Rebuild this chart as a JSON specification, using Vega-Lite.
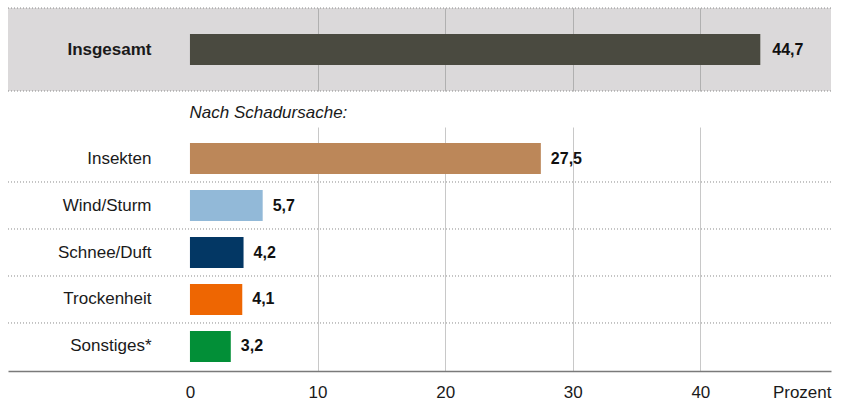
{
  "$schema": "https://vega.github.io/schema/vega-lite/v6.json",
  "padding": {"left": 7, "top": 7, "right": 11, "bottom": 4},
  "background": "white",
  "bounds": "flush",
  "spacing": 36,
  "config": {
    "locale": {"number": {"decimal": ",", "thousands": ".", "grouping": [3], "currency": ["", " €"]}},
    "font": "Liberation Sans",
    "view": {"stroke": null},
    "axis": {"labelFont": "Liberation Sans", "titleFont": "Liberation Sans", "labelColor": "#1a1a1a", "titleColor": "#1a1a1a"},
    "title": {"font": "Liberation Sans"}
  },
  "datasets": {
    "total": [{"label": "Insgesamt", "value": 44.7}],
    "causes": [
      {"label": "Insekten", "value": 27.5},
      {"label": "Wind/Sturm", "value": 5.7},
      {"label": "Schnee/Duft", "value": 4.2},
      {"label": "Trockenheit", "value": 4.1},
      {"label": "Sonstiges*", "value": 3.2}
    ]
  },
  "vconcat": [
    {
      "width": 823,
      "height": 83,
      "view": {"fill": "#dbd9da", "stroke": null},
      "data": {"name": "total"},
      "encoding": {
        "y": {
          "field": "label", "type": "nominal",
          "scale": {"paddingInner": 0, "paddingOuter": 0},
          "axis": {
            "title": null, "domain": false, "ticks": false, "tickSize": 0,
            "labelPadding": -143, "labelAlign": "right",
            "labelFontWeight": "bold", "labelFontSize": 17, "grid": false
          }
        },
        "x": {
          "field": "value", "type": "quantitative",
          "scale": {"domain": [-14.26, 50.24], "nice": false, "zero": false},
          "axis": {
            "title": null, "values": [10, 20, 30, 40], "labels": false, "ticks": false,
            "domain": false, "grid": true, "gridColor": "#b0b0b0", "gridWidth": 1
          }
        }
      },
      "layer": [
        {
          "mark": {"type": "rule", "strokeDash": [1, 2], "color": "#8a8a8a", "strokeWidth": 1},
          "encoding": {
            "y": {"field": "label", "type": "nominal", "bandPosition": 0},
            "x": {"value": 0},
            "x2": {"value": "width"}
          }
        },
        {
          "mark": {"type": "rule", "strokeDash": [1, 2], "color": "#8a8a8a", "strokeWidth": 1},
          "encoding": {
            "y": {"field": "label", "type": "nominal", "bandPosition": 1},
            "x": {"value": 0},
            "x2": {"value": "width"}
          }
        },
        {"mark": {"type": "bar", "height": 31, "color": "#4a4a40"}},
        {
          "mark": {"type": "text", "align": "left", "dx": 12, "fontWeight": "bold", "fontSize": 16, "color": "#111"},
          "encoding": {"text": {"field": "value", "type": "quantitative", "format": ".1f"}}
        }
      ]
    },
    {
      "width": 823,
      "height": 244,
      "title": {
        "text": "Nach Schadursache:", "anchor": "start", "dx": 182, "offset": -8,
        "fontStyle": "italic", "fontWeight": "normal", "fontSize": 17, "color": "#1a1a1a",
        "baseline": "alphabetic"
      },
      "data": {"name": "causes"},
      "encoding": {
        "y": {
          "field": "label", "type": "nominal",
          "sort": ["Insekten", "Wind/Sturm", "Schnee/Duft", "Trockenheit", "Sonstiges*"],
          "scale": {"paddingInner": 0.34, "paddingOuter": 0.266, "align": 0.64},
          "axis": {
            "title": null, "domain": false, "ticks": false, "tickSize": 0,
            "labelPadding": -143, "labelAlign": "right", "labelFontSize": 17, "grid": false
          }
        },
        "x": {
          "field": "value", "type": "quantitative",
          "scale": {"domain": [-14.26, 50.24], "nice": false, "zero": false},
          "axis": {
            "values": [0, 10, 20, 30, 40], "format": "d",
            "grid": true, "gridColor": "#c8c8c8", "gridWidth": 1,
            "gridOpacity": {"condition": {"test": "datum.value === 0", "value": 0}, "value": 1},
            "domain": true, "domainColor": "#7a7a7a", "domainWidth": 1.5,
            "ticks": false, "tickSize": 0,
            "labelPadding": 26, "labelBaseline": "alphabetic", "labelFontSize": 17,
            "title": "Prozent", "titleFontWeight": "normal", "titleFontSize": 17,
            "titleX": 823, "titleY": 26, "titleAlign": "right", "titleBaseline": "alphabetic", "titleAnchor": "end"
          }
        }
      },
      "layer": [
        {
          "transform": [{"filter": "datum.label !== 'Insekten'"}],
          "mark": {"type": "rule", "strokeDash": [1, 2], "color": "#8a8a8a", "strokeWidth": 1},
          "encoding": {
            "y": {"field": "label", "type": "nominal", "sort": ["Insekten", "Wind/Sturm", "Schnee/Duft", "Trockenheit", "Sonstiges*"], "bandPosition": 0},
            "yOffset": {"value": -8},
            "x": {"value": 0},
            "x2": {"value": "width"}
          }
        },
        {
          "mark": {"type": "bar"},
          "encoding": {
            "color": {
              "field": "label", "type": "nominal", "legend": null,
              "scale": {
                "domain": ["Insekten", "Wind/Sturm", "Schnee/Duft", "Trockenheit", "Sonstiges*"],
                "range": ["#bc8759", "#92b9d8", "#033764", "#ee6602", "#028f37"]
              }
            }
          }
        },
        {
          "mark": {"type": "text", "align": "left", "dx": 10, "fontWeight": "bold", "fontSize": 16, "color": "#111"},
          "encoding": {"text": {"field": "value", "type": "quantitative", "format": ".1f"}}
        }
      ]
    }
  ]
}
